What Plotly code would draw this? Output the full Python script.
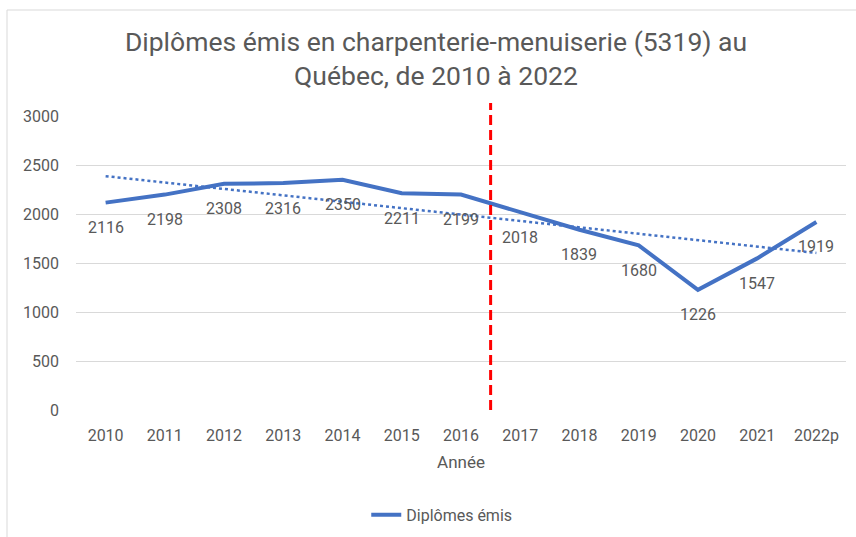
import numpy as np
import plotly.graph_objects as go

annees = ["2010", "2011", "2012", "2013", "2014", "2015", "2016",
          "2017", "2018", "2019", "2020", "2021", "2022p"]
diplomes = [2116, 2198, 2308, 2316, 2350, 2211, 2199,
            2018, 1839, 1680, 1226, 1547, 1919]
y_ticks = [0, 500, 1000, 1500, 2000, 2500, 3000]

FONT = "Roboto"
GRAY = "#595959"
BLUE = "#4472C4"

idx = np.arange(len(annees))
slope, intercept = np.polyfit(idx, diplomes, 1)
trend = slope * idx + intercept

fig = go.Figure()
fig.add_trace(go.Scatter(
    x=idx, y=trend, mode="lines",
    line=dict(color=BLUE, width=2.5, dash="dot"),
    showlegend=False, hoverinfo="skip"))
fig.add_trace(go.Scatter(
    x=idx, y=diplomes, mode="lines", name="Diplômes émis",
    line=dict(color=BLUE, width=4)))

for i, v in zip(idx, diplomes):
    fig.add_annotation(x=i, y=v, text=str(v), showarrow=False,
                       yshift=-25, font=dict(family=FONT, size=16, color=GRAY))

# red dashed separator between 2016 and 2017
fig.add_shape(type="line", xref="x", yref="paper", x0=6.5, x1=6.5,
              y0=0, y1=1.044, line=dict(color="#FF0000", width=3, dash="10px,5px"))

# outer chart border
fig.add_shape(type="rect", xref="paper", yref="paper",
              x0=-0.0896, x1=1.02, y0=-0.47, y1=1.3605,
              line=dict(color="#D9D9D9", width=1), layer="below")

fig.update_layout(
    width=856, height=537,
    margin=dict(l=76, r=10, t=116, b=127, autoexpand=False),
    paper_bgcolor="white", plot_bgcolor="white",
    font=dict(family=FONT, color=GRAY, size=16),
    title=dict(text="Diplômes émis en charpenterie-menuiserie (5319) au<br>Québec, de 2010 à 2022",
               x=436/856, xanchor="center", y=1 - 51/537, yanchor="middle",
               font=dict(family=FONT, size=26.5, color=GRAY)),
    xaxis=dict(tickmode="array", tickvals=idx, ticktext=annees,
               range=[-0.5, len(annees) - 0.5], showgrid=False, zeroline=False,
               showline=False, ticks="", ticklabelstandoff=14,
               tickfont=dict(size=16, color=GRAY),
               title=dict(text="Année", standoff=12, font=dict(size=17, color=GRAY))),
    yaxis=dict(range=[0, 3000], tickvals=y_ticks, showgrid=True,
               gridcolor="#D9D9D9", gridwidth=1, zeroline=False, showline=False,
               ticks="", ticklabelstandoff=16, tickfont=dict(size=16, color=GRAY)),
    legend=dict(orientation="h", x=0.475, xanchor="center", y=-0.357, yanchor="middle",
                font=dict(size=16, color=GRAY)),
    showlegend=True,
)

fig.write_html("out.html", config={"displayModeBar": False},
               post_script="document.body.style.margin='0';document.body.style.overflow='hidden';")
